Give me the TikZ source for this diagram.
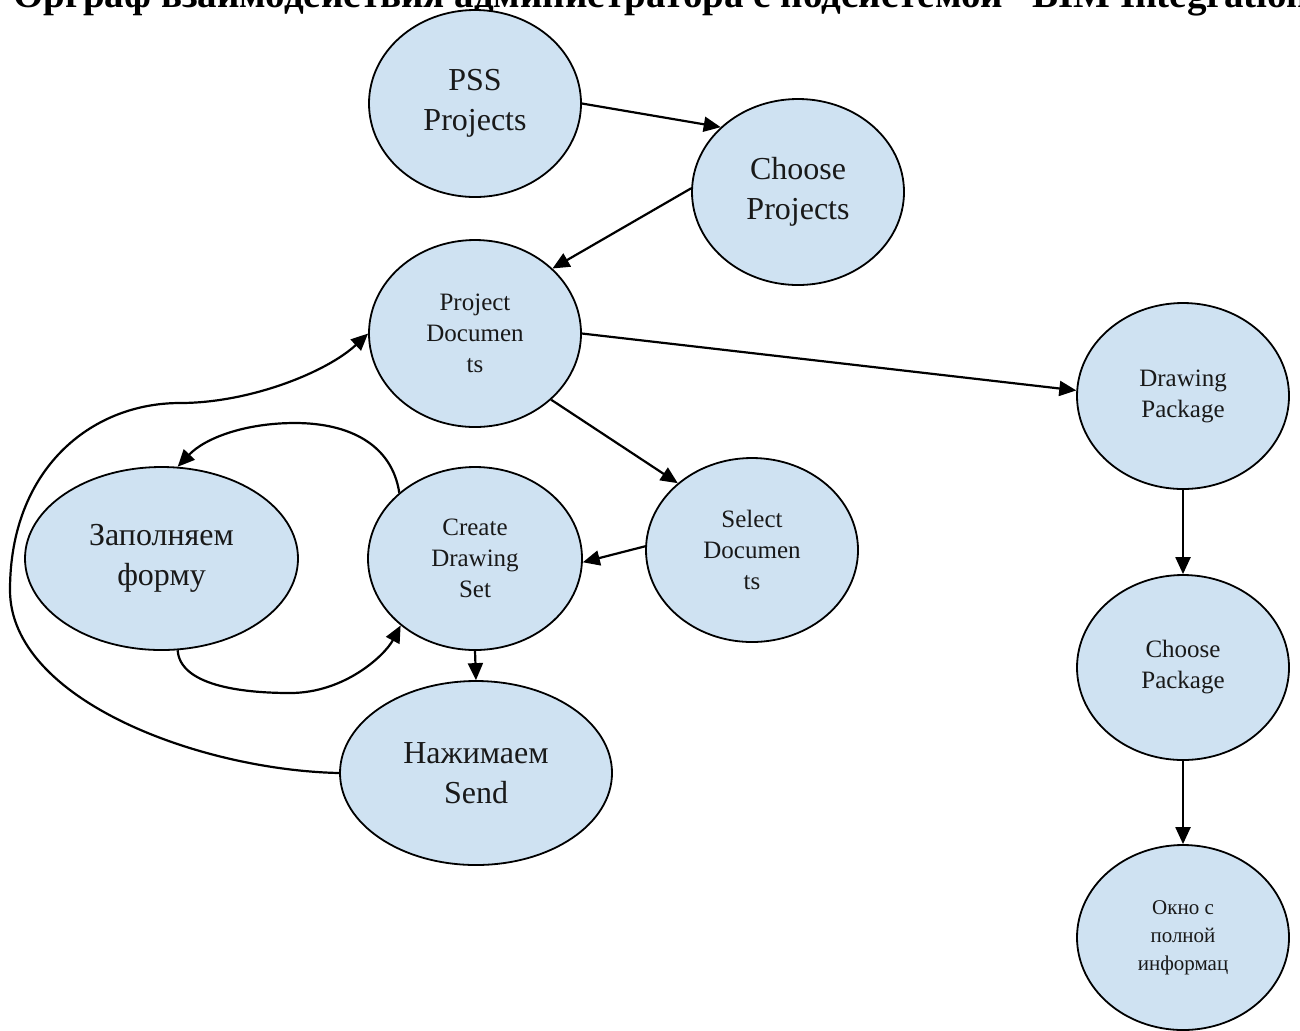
\documentclass[tikz,border=0pt]{standalone}
\usepackage{fontspec}
\setmainfont{Liberation Serif}
\usetikzlibrary{shapes.geometric,arrows.meta}
\definecolor{nodefill}{RGB}{207,226,242}
\tikzset{
  state/.style={ellipse, draw=black, line width=0.9pt, fill=nodefill,
    inner sep=0pt, align=center, text=black!90},
  bigtext/.style={font=\fontsize{16}{20}\selectfont},
  smalltext/.style={font=\fontsize{12.5}{15.5}\selectfont},
  tinytext/.style={font=\fontsize{10.5}{14}\selectfont},
  link/.style={line width=1.1pt, -{Triangle[length=8.5pt,width=7.5pt]}},
}
\begin{document}
\begin{tikzpicture}[x=0.5pt,y=-0.5pt]
\clip (0,0) rectangle (1300,1030);

% heading
\node[anchor=base west, inner sep=0pt, font=\bfseries\fontsize{19.5}{22}\selectfont]
  (title) at (13,7) {Орграф взаимодействия администратора с подсистемой "BIM Integration"};

% states
\node[state, bigtext, minimum width=106pt, minimum height=93.5pt] (pss) at (475,103.5) {PSS\\Projects};
\node[state, bigtext, minimum width=106pt, minimum height=93pt] (cp) at (798,192) {Choose\\Projects};
\node[state, smalltext, minimum width=106pt, minimum height=93.5pt] (pd) at (475,333.5) {Project\\Documen\\ts};
\node[state, smalltext, minimum width=106pt, minimum height=93pt] (dp) at (1183,396) {Drawing\\Package};
\node[state, bigtext, minimum width=136.5pt, minimum height=91.5pt] (zf) at (161.5,558.5) {Заполняем\\форму};
\node[state, smalltext, minimum width=107pt, minimum height=91.5pt] (cds) at (475,558.5) {Create\\Drawing\\Set};
\node[state, smalltext, minimum width=106pt, minimum height=92pt] (sd) at (752,550) {Select\\Documen\\ts};
\node[state, smalltext, minimum width=106pt, minimum height=92.5pt] (chp) at (1183,667.5) {Choose\\Package};
\node[state, bigtext, minimum width=136pt, minimum height=92pt] (ns) at (476,773) {Нажимаем\\Send};
\node[state, tinytext, minimum width=106pt, minimum height=92.5pt] (ok) at (1183,937.5) {Окно с\\полной\\информац};

% straight transitions
\draw[link] (pss.east) -- (cp.140);
\draw[link] (cp.178) -- (pd.40);
\draw[link] (pd.east) -- (dp.177);
\draw[link] (pd.-41) -- (sd.138);
\draw[link] (sd.178) -- (cds.-2);
\draw[link] (cds.south) -- (ns.north);
\draw[link] (dp.south) -- (chp.north);
\draw[link] (chp.south) -- (ok.north);

% curved transitions
\draw[link] (cds.139) .. controls (392,445) and (350,423) .. (295,423)
  .. controls (245,423) and (205,438) .. (zf.80);
\draw[link] (zf.-80) .. controls (180,685) and (240,693) .. (290,693)
  .. controls (345,693) and (385,655) .. (cds.222);
\draw[link] (ns.west) .. controls (200,770) and (10,700) .. (10,590)
  .. controls (10,470) and (90,403) .. (180,403)
  .. controls (250,403) and (327,372) .. (pd.west);
\end{tikzpicture}
\end{document}
